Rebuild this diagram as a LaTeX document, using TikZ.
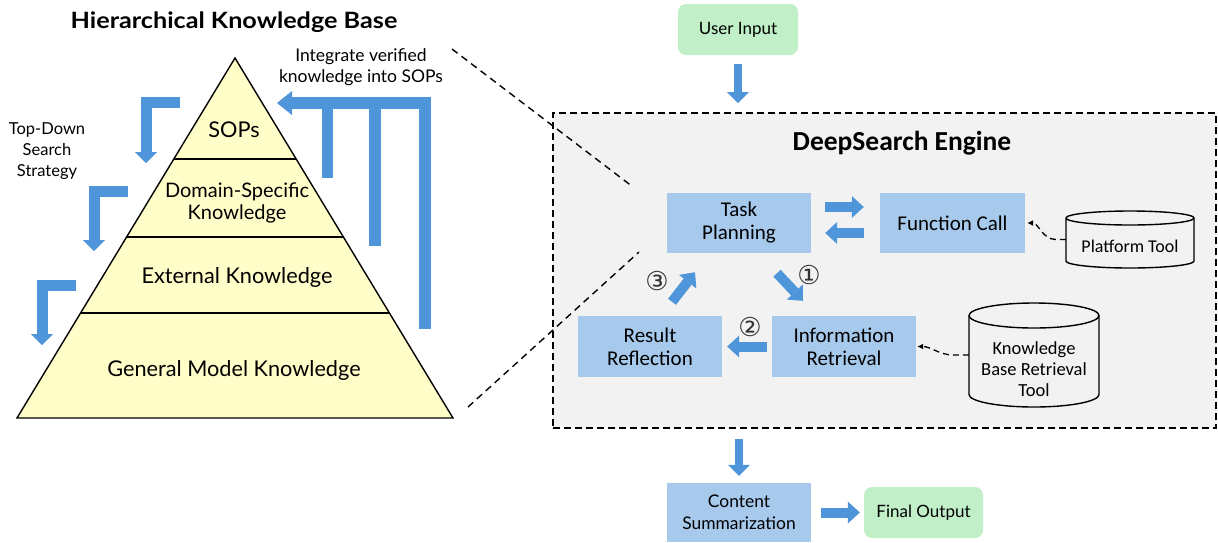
\documentclass[tikz,border=0pt]{standalone}
\usepackage{fontspec}
\setmainfont{Carlito}
\newfontfamily\lato{Lato}
\newfontfamily\latowide[FakeStretch=1.12]{Lato}
\newfontfamily\dvs{DejaVu Sans}
\usetikzlibrary{arrows.meta,calc}
\definecolor{arrowblue}{RGB}{78,149,217}
\definecolor{boxblue}{RGB}{166,201,236}
\definecolor{boxgreen}{RGB}{193,240,200}
\definecolor{enginebg}{RGB}{242,242,242}
\definecolor{pyrfill}{RGB}{255,253,200}
\begin{document}
\begin{tikzpicture}[x=1pt,y=-1pt,
  bluebox/.style={fill=boxblue, draw=none, minimum width=144pt, minimum height=60pt, align=center, font=\fontsize{21}{23}\selectfont, inner sep=0pt},
  greenbox/.style={fill=boxgreen, draw=none, rounded corners=8pt, minimum width=120pt, minimum height=51pt, align=center, font=\lato\fontsize{17}{20}\selectfont, inner sep=0pt},
  blockarrow/.style={draw=arrowblue, line width=10pt, -{Triangle[length=12pt,width=22pt,line width=0pt]}},
  thinblock/.style={draw=arrowblue, line width=8pt, -{Triangle[length=11pt,width=22pt,line width=0pt]}},
  bentarrow/.style={draw=arrowblue, line width=11pt, line join=miter, -{Triangle[length=11pt,width=22pt,line width=0pt]}},
  pyrtext/.style={font=\lato\fontsize{21.7}{22}\selectfont, align=center, inner sep=0pt},
  sidetext/.style={font=\lato\fontsize{16.5}{21}\selectfont, align=center, inner sep=0pt},
  linkdash/.style={draw=black, line width=1.4pt, dash pattern=on 7pt off 5pt},
  toolconn/.style={draw=black, line width=1.3pt, dash pattern=on 6pt off 4pt, -{Latex[length=6pt,width=6pt]}},
  cylline/.style={draw=black, line width=1.4pt, fill=enginebg},
  numtext/.style={font=\dvs\fontsize{26}{26}\selectfont, inner sep=0pt, text=black!80},
]
\useasboundingbox (0,0) rectangle (1218,542);

% ---------------- Hierarchical knowledge base ----------------
\node[font=\latowide\bfseries\fontsize{22.5}{24}\selectfont, inner sep=0pt] (kbtitle) at (234,22) {Hierarchical Knowledge Base};

\filldraw[fill=pyrfill, draw=black, line width=1.4pt, line join=miter] (235,58) -- (17,418) -- (453,418) -- cycle;
\draw[line width=1.4pt] (173.8,159) -- (296.2,159);
\draw[line width=1.4pt] (126.6,237) -- (343.4,237);
\draw[line width=1.4pt] (80.6,313) -- (389.4,313);

\node[pyrtext] (sops) at (234,130) {SOPs};
\node[pyrtext, font=\lato\fontsize{20}{22}\selectfont] (dsk) at (237,203) {Domain-Specific\\Knowledge};
\node[pyrtext] (ext) at (237,277) {External Knowledge};
\node[pyrtext] (gen) at (234,370) {General Model Knowledge};

% top-down arrows
\draw[bentarrow] (180,102.5) -- (146,102.5) -- (146,163);
\draw[bentarrow] (128,191.5) -- (94,191.5) -- (94,251);
\draw[bentarrow] (76,285) -- (42,285) -- (42,345);
\node[sidetext] (tds) at (47,151) {Top-Down\\Search\\Strategy};

% integrate arrows
\draw[draw=arrowblue, line width=12pt, line join=miter, -{Triangle[length=15pt,width=24pt,line width=0pt]}] (424.5,329) -- (424.5,103) -- (277,103);
\draw[draw=arrowblue, line width=11pt] (327.5,103) -- (327.5,178);
\draw[draw=arrowblue, line width=12pt] (375,103) -- (375,246);
\node[font=\lato\fontsize{17.5}{21}\selectfont, align=center, inner sep=0pt] (integ) at (361,67) {Integrate verified\\knowledge into SOPs};

% ---------------- DeepSearch engine ----------------
\node[draw=black, line width=1.8pt, dash pattern=on 7pt off 4pt, fill=enginebg, minimum width=663pt, minimum height=315pt, inner sep=0pt] (engine) at (884.5,270.5) {};
\node[font=\bfseries\fontsize{27.5}{30}\selectfont, inner sep=0pt] (engtitle) at (902,143) {DeepSearch Engine};

% zoom lines
\coordinate (z1a) at (452,49);
\coordinate (z1b) at (633,187);
\coordinate (z2a) at (468,407);
\coordinate (z2b) at (639,252);
\draw[linkdash] (z1a) -- (z1b);
\draw[linkdash] (z2a) -- (z2b);

\node[bluebox] (task) at (739,223) {Task\\Planning};
\node[bluebox, minimum width=145pt] (func) at (952.5,223) {Function Call};
\node[bluebox, minimum height=61pt] (reflect) at (650,346.5) {Result\\Reflection};
\node[bluebox, minimum height=61pt] (info) at (844,346.5) {Information\\Retrieval};

\draw[blockarrow, shorten <=14pt, shorten >=16pt] ([yshift=16pt]task.east) -- ([yshift=16pt]func.west);
\draw[blockarrow, shorten <=16pt, shorten >=14pt] ([yshift=-10pt]func.west) -- ([yshift=-10pt]task.east);
\draw[blockarrow] ($(task.south)+(38,20)$) -- ($(info.north)+(-41,-15)$);
\draw[blockarrow, shorten <=5pt, shorten >=5pt] (info.west) -- (reflect.east);
\draw[blockarrow] ($(reflect.north)+(22,-14)$) -- ($(task.south)+(-44,19)$);

\node[numtext] (n1) at (809,275) {①};
\node[numtext] (n2) at (750,327) {②};
\node[numtext] (n3) at (657,281) {③};

% platform tool cylinder
\draw[cylline] (1066,218) -- (1066,261) arc[start angle=180, end angle=360, x radius=64pt, y radius=7pt] -- (1194,218) arc[start angle=0, end angle=180, x radius=64pt, y radius=7pt] -- cycle;
\draw[line width=1.4pt] (1066,218) arc[start angle=180, end angle=360, x radius=64pt, y radius=7pt];
\node[minimum width=128pt, minimum height=57pt, inner sep=0pt] (ptool) at (1130,239.5) {};
\node[font=\fontsize{18}{20}\selectfont, inner sep=0pt] (ptooltext) at (1130,246) {Platform Tool};

% knowledge base retrieval tool cylinder
\draw[cylline] (969,315.5) -- (969,394.5) arc[start angle=180, end angle=360, x radius=65pt, y radius=12.5pt] -- (1099,315.5) arc[start angle=0, end angle=180, x radius=65pt, y radius=12.5pt] -- cycle;
\draw[line width=1.4pt] (969,315.5) arc[start angle=180, end angle=360, x radius=65pt, y radius=12.5pt];
\node[minimum width=130pt, minimum height=104pt, inner sep=0pt] (kbtool) at (1034,355) {};
\node[font=\fontsize{18.5}{21}\selectfont, align=center, inner sep=0pt] (kbtooltext) at (1034,369) {Knowledge\\Base Retrieval\\Tool};

\draw[toolconn, shorten >=2pt] (ptool.west) -- ++(-10,0) to[out=180, in=0] (func.east);
\draw[toolconn, shorten >=1pt] (kbtool.west) -- ++(-15,0) to[out=180, in=0] (info.east);

% ---------------- input / output ----------------
\node[greenbox] (user) at (738,29.5) {User Input};
\node[bluebox, minimum height=59pt, font=\lato\fontsize{17.4}{22}\selectfont] (content) at (739,512.5) {Content\\Summarization};
\node[greenbox, minimum width=119pt] (final) at (923.5,512.5) {Final Output};

\draw[thinblock, shorten <=9pt, shorten >=9pt] (user.south) -- (user.south |- engine.north);
\draw[thinblock, shorten <=10pt, shorten >=7pt] (content.north |- engine.south) -- (content.north);
\draw[blockarrow, shorten <=10pt, shorten >=4pt] (content.east) -- (final.west);
\end{tikzpicture}
\end{document}
